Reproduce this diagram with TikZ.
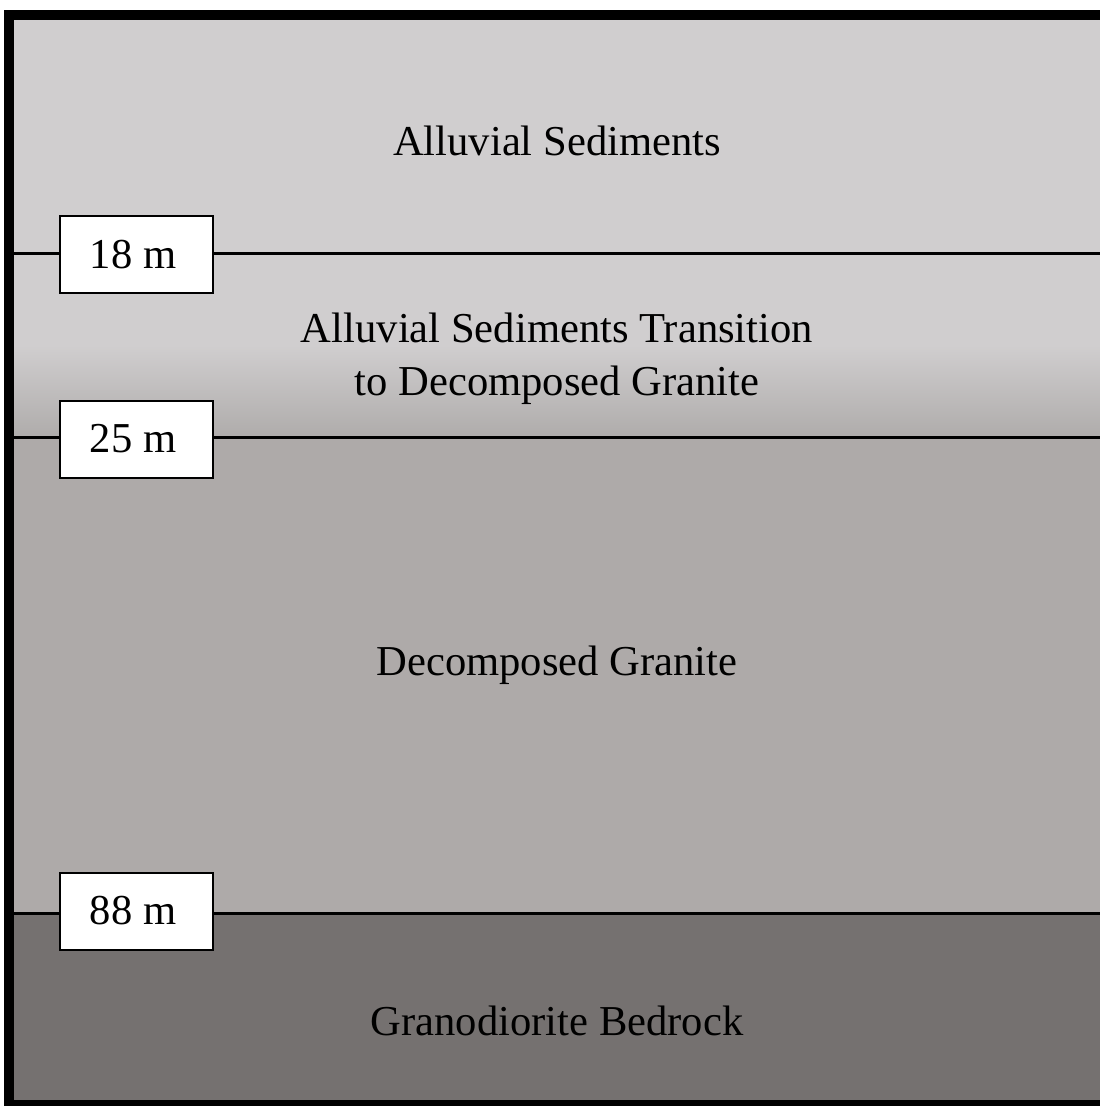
\documentclass[tikz,border=0pt]{standalone}
\usepackage{fontspec}
\setmainfont{Liberation Serif}
\begin{document}
\begin{tikzpicture}[x=1pt,y=-1pt,
  layertext/.style={font=\fontsize{42.6}{53}\selectfont, align=center, inner sep=0pt},
  depthbox/.style={draw=black, line width=2pt, fill=white, minimum width=153pt, minimum height=77pt, inner sep=0pt, font=\fontsize{42.6}{50}\selectfont},
  boundary/.style={line width=3pt, black}]
\definecolor{alluvial}{RGB}{208,206,207}
\definecolor{transbot}{RGB}{175,172,171}
\definecolor{granite}{RGB}{174,170,169}
\definecolor{bedrock}{RGB}{117,113,112}
\useasboundingbox (0,0) rectangle (1100,1106);
% layers
\fill[alluvial] (9,15) rectangle (1110,345);
\shade[top color=alluvial, bottom color=transbot] (9,345) rectangle (1110,437);
\fill[granite] (9,437) rectangle (1110,913);
\fill[bedrock] (9,913) rectangle (1110,1105);
% depth markers
\coordinate (l18) at (9,253);
\coordinate (r18) at (1110,253);
\coordinate (l25) at (9,437);
\coordinate (r25) at (1110,437);
\coordinate (l88) at (9,913);
\coordinate (r88) at (1110,913);
\draw[boundary] (l18) -- (r18);
\draw[boundary] (l25) -- (r25);
\draw[boundary] (l88) -- (r88);
\node[depthbox] (d18) at (136.5,254.5) {\hspace*{-7pt}18 m};
\node[depthbox] (d25) at (136.5,439) {\hspace*{-7pt}25 m};
\node[depthbox] (d88) at (136.5,911) {\hspace*{-7pt}88 m};
% layer names
\node[layertext] (t1) at (557,141) {Alluvial Sediments};
\node[layertext] (t2) at (557,359) {Alluvial Sediments Transition\\to Decomposed Granite};
\node[layertext] (t3) at (557,665) {Decomposed Granite};
\node[layertext] (t4) at (557,1021) {Granodiorite Bedrock};
% outer frame
\draw[line width=10pt, black] (9,15) rectangle (1110,1105);
\end{tikzpicture}
\end{document}
